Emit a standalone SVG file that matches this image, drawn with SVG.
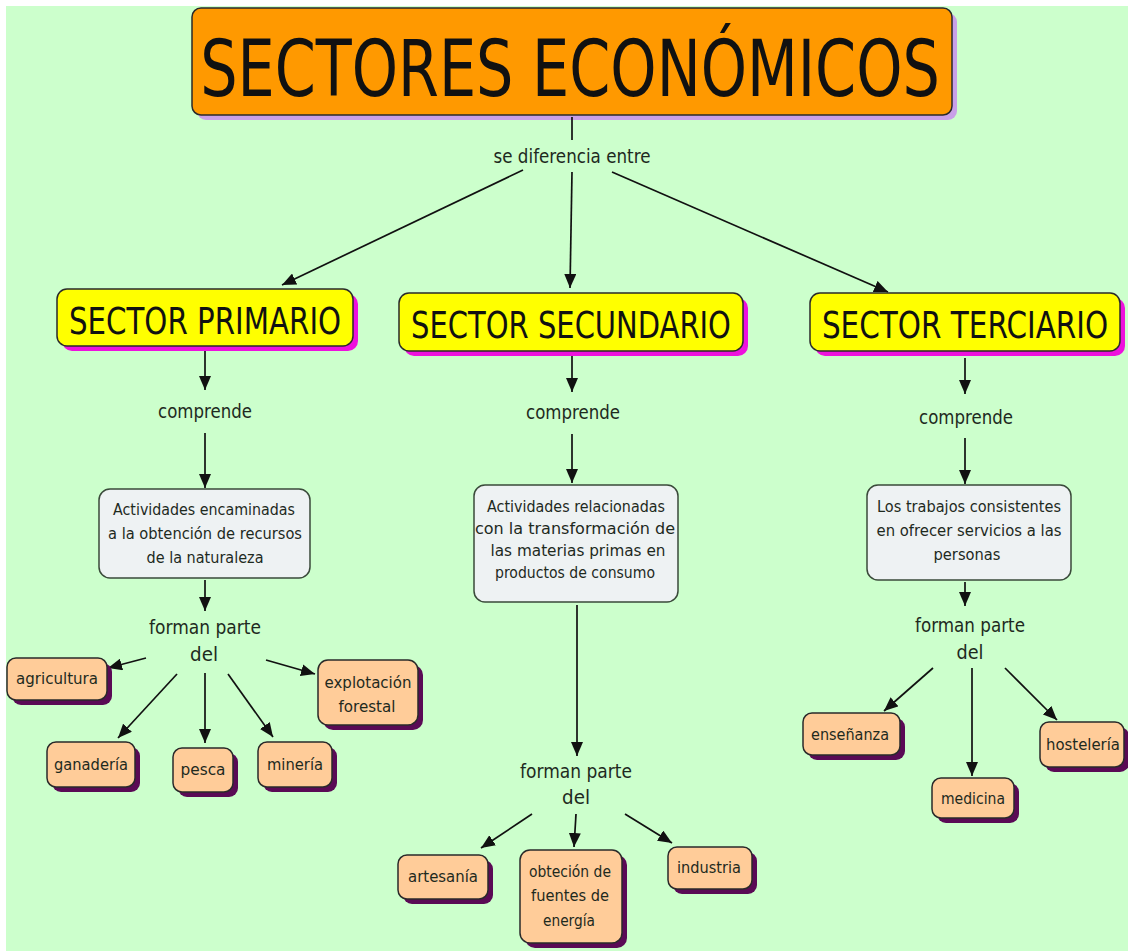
<svg xmlns="http://www.w3.org/2000/svg" width="1128" height="951" viewBox="0 0 1128 951">
<defs>
<marker id="ah" viewBox="0 0 14 12" refX="14" refY="6" markerWidth="14" markerHeight="12" markerUnits="userSpaceOnUse" orient="auto"><path d="M0,0 L14,6 L0,12 z" fill="#111"/></marker>
<style>
text{font-family:"DejaVu Sans","Liberation Sans",sans-serif;fill:#1e2a1e;text-anchor:middle}
.box{stroke:#2a2a2a;stroke-width:1.5}
.c line{stroke:#111;stroke-width:1.7;marker-end:url(#ah)}
.lbl{font-size:19px}
.t15{font-size:15.5px}
.sec{font-size:37px;fill:#111}
.gray{fill:#eef2f3;stroke:#3a4a3a;stroke-width:1.5}
.peach{fill:#ffcc99}
.psh{fill:#5a0a55}
.ssh{fill:#ee11dd}
</style>
</defs>
<rect x="0" y="0" width="1128" height="951" fill="#ffffff"/>
<rect x="6" y="6" width="1122" height="945" fill="#ccffcc"/>

<g id="title">
<rect x="197" y="13" width="760" height="107" rx="9" fill="#c9a0e8"/>
<rect x="192" y="8" width="760" height="107" rx="9" fill="#ff9900" class="box"/>
<text transform="translate(570,96) scale(0.736,1)" x="0" y="0" font-size="78" textLength="1005" lengthAdjust="spacingAndGlyphs" style="fill:#111">SECTORES ECONÓMICOS</text>
</g>

<g id="c-labels">
<text x="572" y="163" class="lbl" textLength="157" lengthAdjust="spacingAndGlyphs">se diferencia entre</text>
<text x="205" y="418" class="lbl" textLength="94" lengthAdjust="spacingAndGlyphs">comprende</text>
<text x="573" y="419" class="lbl" textLength="94" lengthAdjust="spacingAndGlyphs">comprende</text>
<text x="966" y="424" class="lbl" textLength="94" lengthAdjust="spacingAndGlyphs">comprende</text>
<text x="205" y="634" class="lbl" textLength="112" lengthAdjust="spacingAndGlyphs">forman parte</text>
<text x="204" y="661" class="lbl" textLength="28" lengthAdjust="spacingAndGlyphs">del</text>
<text x="576" y="778" class="lbl" textLength="112" lengthAdjust="spacingAndGlyphs">forman parte</text>
<text x="576" y="804" class="lbl" textLength="28" lengthAdjust="spacingAndGlyphs">del</text>
<text x="970" y="632" class="lbl" textLength="110" lengthAdjust="spacingAndGlyphs">forman parte</text>
<text x="970" y="659" class="lbl" textLength="27" lengthAdjust="spacingAndGlyphs">del</text>
</g>

<g class="c" id="connectors">
<line x1="572" y1="117" x2="572" y2="140" style="marker-end:none"/>
<line x1="523" y1="170" x2="282" y2="285"/>
<line x1="572" y1="172" x2="570" y2="288"/>
<line x1="612" y1="172" x2="888" y2="292"/>
<line x1="205" y1="350" x2="205" y2="390"/>
<line x1="205" y1="433" x2="205" y2="488"/>
<line x1="205" y1="580" x2="205" y2="611"/>
<line x1="146" y1="658" x2="108" y2="668"/>
<line x1="177" y1="674" x2="118" y2="738"/>
<line x1="205" y1="673" x2="205" y2="743"/>
<line x1="228" y1="674" x2="273" y2="737"/>
<line x1="266" y1="660" x2="315" y2="674"/>
<line x1="572" y1="356" x2="572" y2="392"/>
<line x1="572" y1="434" x2="572" y2="483"/>
<line x1="577" y1="605" x2="577" y2="756"/>
<line x1="532" y1="814" x2="481" y2="848"/>
<line x1="576" y1="814" x2="574" y2="847"/>
<line x1="625" y1="814" x2="672" y2="843"/>
<line x1="965" y1="358" x2="965" y2="394"/>
<line x1="965" y1="438" x2="965" y2="484"/>
<line x1="965" y1="582" x2="965" y2="606"/>
<line x1="933" y1="668" x2="884" y2="711"/>
<line x1="972" y1="668" x2="972" y2="776"/>
<line x1="1005" y1="668" x2="1057" y2="720"/>
</g>

<g id="primario">
<rect x="62" y="294" width="296" height="57" rx="10" class="ssh"/>
<rect x="57" y="289" width="296" height="57" rx="10" fill="#ffff00" class="box"/>
<text transform="translate(205,334) scale(0.78,1)" x="0" y="0" class="sec" textLength="349" lengthAdjust="spacingAndGlyphs">SECTOR PRIMARIO</text>
</g>
<g id="secundario">
<rect x="404" y="298" width="344" height="58" rx="10" class="ssh"/>
<rect x="399" y="293" width="344" height="58" rx="10" fill="#ffff00" class="box"/>
<text transform="translate(571,338) scale(0.78,1)" x="0" y="0" class="sec" textLength="410" lengthAdjust="spacingAndGlyphs">SECTOR SECUNDARIO</text>
</g>
<g id="terciario">
<rect x="815" y="298" width="310" height="58" rx="10" class="ssh"/>
<rect x="810" y="293" width="310" height="58" rx="10" fill="#ffff00" class="box"/>
<text transform="translate(965,338) scale(0.78,1)" x="0" y="0" class="sec" textLength="367" lengthAdjust="spacingAndGlyphs">SECTOR TERCIARIO</text>
</g>

<g id="def-primario">
<rect x="99" y="489" width="211" height="89" rx="11" class="gray"/>
<text x="204" y="515" class="t15" textLength="182" lengthAdjust="spacingAndGlyphs">Actividades encaminadas</text>
<text x="205" y="539" class="t15" textLength="194" lengthAdjust="spacingAndGlyphs">a la obtención de recursos</text>
<text x="205" y="563" class="t15" textLength="117" lengthAdjust="spacingAndGlyphs">de la naturaleza</text>
</g>
<g id="def-secundario">
<rect x="474" y="485" width="204" height="117" rx="11" class="gray"/>
<text x="576" y="512" class="t15" textLength="178" lengthAdjust="spacingAndGlyphs">Actividades relacionadas</text>
<text x="575" y="534" class="t15" textLength="200" lengthAdjust="spacingAndGlyphs">con la transformación de</text>
<text x="578" y="556" class="t15" textLength="175" lengthAdjust="spacingAndGlyphs">las materias primas en</text>
<text x="575" y="578" class="t15" textLength="160" lengthAdjust="spacingAndGlyphs">productos de consumo</text>
</g>
<g id="def-terciario">
<rect x="867" y="485" width="204" height="95" rx="11" class="gray"/>
<text x="969" y="512" class="t15" textLength="184" lengthAdjust="spacingAndGlyphs">Los trabajos consistentes</text>
<text x="969" y="536" class="t15" textLength="185" lengthAdjust="spacingAndGlyphs">en ofrecer servicios a las</text>
<text x="967" y="560" class="t15" textLength="67" lengthAdjust="spacingAndGlyphs">personas</text>
</g>

<g id="agricultura">
<rect x="12" y="663" width="100" height="42" rx="9" class="psh"/>
<rect x="7" y="658" width="100" height="42" rx="9" class="peach box"/>
<text x="57" y="684" class="t15" textLength="82" lengthAdjust="spacingAndGlyphs">agricultura</text>
</g>
<g id="ganaderia">
<rect x="52" y="747" width="88" height="45" rx="9" class="psh"/>
<rect x="47" y="742" width="88" height="45" rx="9" class="peach box"/>
<text x="91" y="770" class="t15" textLength="74" lengthAdjust="spacingAndGlyphs">ganadería</text>
</g>
<g id="pesca">
<rect x="178" y="753" width="60" height="44" rx="9" class="psh"/>
<rect x="173" y="748" width="60" height="44" rx="9" class="peach box"/>
<text x="203" y="775" class="t15" textLength="45" lengthAdjust="spacingAndGlyphs">pesca</text>
</g>
<g id="mineria">
<rect x="263" y="747" width="74" height="45" rx="9" class="psh"/>
<rect x="258" y="742" width="74" height="45" rx="9" class="peach box"/>
<text x="295" y="770" class="t15" textLength="56" lengthAdjust="spacingAndGlyphs">minería</text>
</g>
<g id="explotacion">
<rect x="323" y="665" width="100" height="65" rx="10" class="psh"/>
<rect x="318" y="660" width="100" height="65" rx="10" class="peach box"/>
<text x="368" y="688" class="t15" textLength="87" lengthAdjust="spacingAndGlyphs">explotación</text>
<text x="367" y="712" class="t15" textLength="57" lengthAdjust="spacingAndGlyphs">forestal</text>
</g>

<g id="artesania">
<rect x="403" y="860" width="90" height="44" rx="9" class="psh"/>
<rect x="398" y="855" width="90" height="44" rx="9" class="peach box"/>
<text x="443" y="882" class="t15" textLength="70" lengthAdjust="spacingAndGlyphs">artesanía</text>
</g>
<g id="obtecion">
<rect x="525" y="855" width="102" height="93" rx="10" class="psh"/>
<rect x="520" y="850" width="102" height="93" rx="10" class="peach box"/>
<text x="570" y="877" class="t15" textLength="82" lengthAdjust="spacingAndGlyphs">obteción de</text>
<text x="570" y="901" class="t15" textLength="78" lengthAdjust="spacingAndGlyphs">fuentes de</text>
<text x="569" y="926" class="t15" textLength="52" lengthAdjust="spacingAndGlyphs">energía</text>
</g>
<g id="industria">
<rect x="673" y="852" width="84" height="42" rx="9" class="psh"/>
<rect x="668" y="847" width="84" height="42" rx="9" class="peach box"/>
<text x="709" y="873" class="t15" textLength="64" lengthAdjust="spacingAndGlyphs">industria</text>
</g>

<g id="ensenanza">
<rect x="808" y="718" width="97" height="42" rx="9" class="psh"/>
<rect x="803" y="713" width="97" height="42" rx="9" class="peach box"/>
<text x="850" y="740" class="t15" textLength="78" lengthAdjust="spacingAndGlyphs">enseñanza</text>
</g>
<g id="medicina">
<rect x="937" y="783" width="82" height="40" rx="9" class="psh"/>
<rect x="932" y="778" width="82" height="40" rx="9" class="peach box"/>
<text x="973" y="804" class="t15" textLength="64" lengthAdjust="spacingAndGlyphs">medicina</text>
</g>
<g id="hosteleria">
<rect x="1045" y="727" width="84" height="45" rx="9" class="psh"/>
<rect x="1040" y="722" width="84" height="45" rx="9" class="peach box"/>
<text x="1083" y="750" class="t15" textLength="74" lengthAdjust="spacingAndGlyphs">hostelería</text>
</g>
</svg>
